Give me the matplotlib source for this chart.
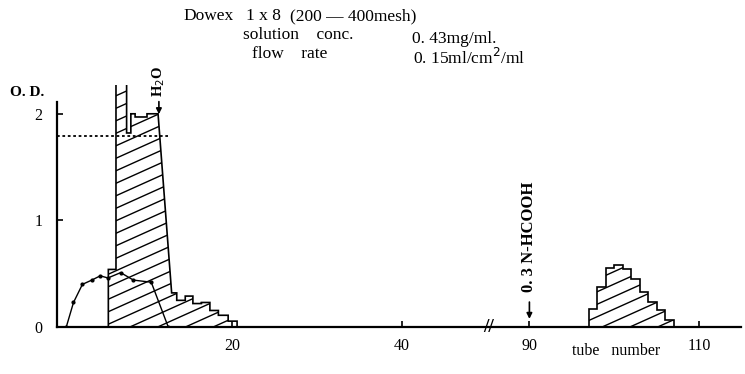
import numpy as np
import matplotlib
matplotlib.use('Agg')
import matplotlib.pyplot as plt

plt.rcParams['font.family'] = ['Liberation Serif', 'DejaVu Serif']

# unhatched curve (tube number, O.D.)
curve_tube = [0.5, 1.35, 2.4, 3.5, 4.5, 5.4, 6.9, 8.4, 10.5, 12.5]
curve_od = [0.0, 0.23, 0.40, 0.44, 0.48, 0.46, 0.51, 0.44, 0.42, 0.0]

# first hatched peak, outline (tube number, O.D.) - spike runs off the top
peak1_tube = [5.45, 5.45, 6.35, 6.35, 7.6, 7.6, 8.1, 8.1, 8.6, 8.6, 10.0, 10.0,
              11.3, 12.9, 13.5, 13.5, 14.5, 14.5, 15.4, 15.4, 16.4, 16.4, 17.4,
              17.4, 18.4, 18.4, 19.55, 19.55, 20.6, 20.6]
peak1_od = [0.0, 0.54, 0.54, 2.6, 2.6, 1.82, 1.82, 2.0, 2.0, 1.97, 1.97, 2.0,
            2.0, 0.32, 0.32, 0.25, 0.25, 0.29, 0.29, 0.22, 0.22, 0.23, 0.23,
            0.155, 0.155, 0.11, 0.11, 0.055, 0.055, 0.0]

# second hatched peak, one value per tube
peak2_edges = np.arange(97, 108)
peak2_od = [0.17, 0.375, 0.55, 0.58, 0.54, 0.45, 0.33, 0.235, 0.155, 0.07]

dotted_od = 1.79
dotted_end = 12.5
x_ticks = [20, 40, 90, 110]
y_ticks = [0, 1, 2]

# broken x axis: tubes 50..85 are left out
BRK = 50.2
GAP = 35.0


def fwd(t):
    t = np.asarray(t, float)
    return np.where(t <= BRK, t, np.maximum(t - GAP, BRK))


def inv(p):
    p = np.asarray(p, float)
    return np.where(p <= BRK, p, p + GAP)


W, H = 745, 374
fig = plt.figure(figsize=(W / 100, H / 100), dpi=100)
ax_box = [56.5 / W, 47 / H, 684.5 / W, 242 / H]
ax = fig.add_axes(ax_box)
ax.set_xscale('function', functions=(fwd, inv))
ax.set_xlim(-0.65, 114.9)
ax.set_ylim(0, 2.27)


def hatch(patch, slope=0.45, step=12.5):
    # shallow diagonal hatching, clipped to the patch
    w, h = ax_box[2] * W, ax_box[3] * H
    for c in np.arange(-slope * w, h, step):
        ln, = ax.plot([0, 1], [c / h, (c + slope * w) / h], transform=ax.transAxes,
                      color='k', lw=1.0)
        ln.set_clip_path(patch)


p1 = ax.fill(peak1_tube, peak1_od, facecolor='none', edgecolor='k', lw=1.2)[0]
hatch(p1)
p2 = ax.stairs(peak2_od, peak2_edges, baseline=0, color='k', lw=1.2)
hatch(p2)

ax.plot(curve_tube, curve_od, color='k', lw=1.0, marker='o', ms=2)
ax.plot([-0.65, dotted_end], [dotted_od, dotted_od], color='k', lw=1.3,
        linestyle=(0, (1.5, 1.5)))

for s in ['top', 'right']:
    ax.spines[s].set_visible(False)
ax.spines['left'].set_bounds(0, 2.11)
ax.spines['left'].set_linewidth(1.6)
ax.spines['bottom'].set_linewidth(1.6)

ax.set_xticks(x_ticks)
ax.set_yticks(y_ticks)
ax.tick_params(direction='in', length=4, width=1.2, labelsize=11.5)
ax.tick_params(axis='x', pad=8)
ax.tick_params(axis='y', pad=10)

ax.text(BRK, 0, '//', ha='center', va='center', fontsize=14, fontweight='bold')

# eluent change arrows
ax.annotate('', xy=(11.4, 1.97), xytext=(11.4, 2.14),
            arrowprops=dict(arrowstyle='-|>', color='k', lw=1.2, mutation_scale=8))
ax.text(11.4, 2.16, 'H$_2$O', rotation=90, ha='center', va='bottom', fontsize=10.5,
        fontweight='bold', clip_on=False)
ax.annotate('', xy=(90, 0.05), xytext=(90, 0.26),
            arrowprops=dict(arrowstyle='-|>', color='k', lw=1.2, mutation_scale=8))
ax.text(90, 0.33, '0. 3 N-HCOOH', rotation=90, ha='center', va='bottom',
        fontsize=12, fontweight='bold')


def ft(x, y, s, size=12.5, **kw):
    fig.text(x / W, 1 - y / H, s, va='center', fontsize=size, **kw)


ft(10, 93, 'O. D.', size=11, fontweight='bold')
ft(572, 351, 'tube   number', size=11.5)
ft(183, 16, 'Dowex')
ft(246, 16, '1 x 8')
ft(290, 16, '(200 — 400mesh)')
ft(243, 35, 'solution    conc.')
ft(412, 39, '0. 43mg/ml.')
ft(252, 54, 'flow    rate')
ft(413, 58, '0. 15ml/cm$^2$/ml')

fig.savefig('out.png', dpi=100)
